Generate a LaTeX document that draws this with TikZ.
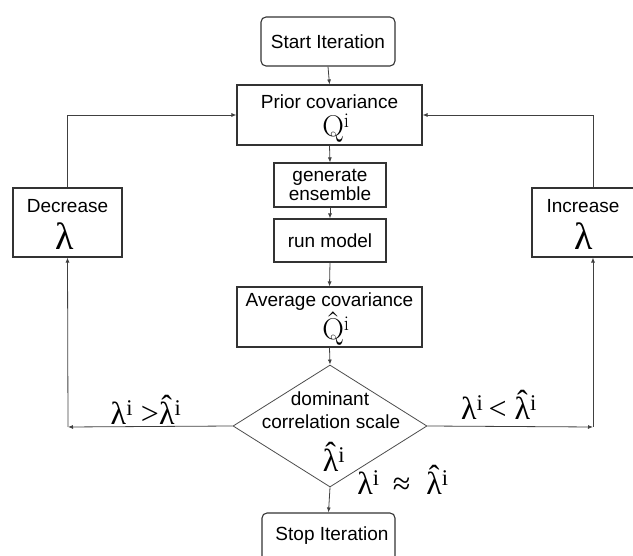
\documentclass[tikz,border=0pt]{standalone}
\usepackage{fontspec}
\newfontfamily\arial{Liberation Sans}
\newfontfamily\tms{Liberation Serif}
\usetikzlibrary{shapes.geometric,arrows.meta}
\newcommand\lam{{\tms λ}}
\newcommand\hlam{{\tms\accent"02C6 λ}}
\newcommand\supi{\textsuperscript{i}}
\begin{document}
\begin{tikzpicture}[x=1pt,y=-1pt]
\tikzset{
  bx/.style={draw=black!80, line width=1.1pt, inner sep=0pt, align=center,
    font=\arial\fontsize{19}{19}\selectfont},
  txt/.style={inner sep=0pt, anchor=base, font=\arial\fontsize{19}{19}\selectfont},
  sym/.style={inner sep=0pt, anchor=base, font=\fontsize{30}{30}\selectfont},
  big/.style={inner sep=0pt, anchor=base, font=\tms\fontsize{38}{38}\selectfont},
  lbl/.style={inner sep=0pt, anchor=base, font=\tms\fontsize{32}{32}\selectfont},
  arr/.style={draw=black!75, line width=0.8pt, -{Latex[length=5pt,width=4pt]}},
}
\useasboundingbox (0,0) rectangle (633,556);
\clip (0,0) rectangle (633,556);

% boxes
\node[bx, rounded corners=5pt, minimum width=134pt, minimum height=49pt] (start) at (328,41.5) {Start Iteration};
\node[bx, minimum width=185pt, minimum height=60pt] (prior) at (329.5,115) {};
\node[bx, minimum width=112pt, minimum height=44pt] (gen) at (330,185) {generate\\ensemble};
\node[bx, minimum width=112pt, minimum height=43pt] (run) at (330,240.5) {run model};
\node[bx, minimum width=185pt, minimum height=60pt] (avg) at (329.5,317) {};
\node[draw=black!70, line width=0.8pt, diamond, inner sep=0pt, minimum width=194pt, minimum height=122pt] (dia) at (330,426) {};
\node[bx, rounded corners=5pt, minimum width=133pt, minimum height=54pt] (stop) at (328.5,540) {};
\node[bx, minimum width=109pt, minimum height=69pt] (dec) at (67.5,222.5) {};
\node[bx, minimum width=114pt, minimum height=69pt] (inc) at (589,222.5) {};

% texts
\node[txt] (tprior) at (329.5,109) {Prior covariance};
\node[sym] (tq) at (336,137) {Q\supi};
\node[txt] (tavg) at (329.5,307) {Average covariance};
\node[sym] (tqh) at (336,340) {\accent"02C6 Q\supi};
\node[txt] (tdom) at (330,406) {dominant};
\node[txt] (tcor) at (331,429) {correlation scale};
\node[lbl] (tlh) at (334,472) {\hlam\supi};
\node[txt] (tstop) at (332,541) {Stop Iteration};
\node[txt] (tdec) at (67.5,213) {Decrease};
\node[big] (ldec) at (65,250) {\lam};
\node[txt] (tinc) at (583,213) {Increase};
\node[big] (linc) at (584,250) {\lam};

% edge labels
\node[lbl] (lL) at (146,425) {\lam\supi\ >\hlam\supi};
\node[lbl] (lR) at (499,420) {\lam\supi\,<\ \hlam\supi};
\node[lbl] (lB) at (403,495) {\lam\supi\ \,≈\ \ \hlam\supi};

% connectors
\coordinate (cl) at (68,427);
\coordinate (cr) at (593,427);
\draw[arr] (start.south) -- (prior.north);
\draw[arr] (prior.south) -- (gen.north);
\draw[arr] (gen.south) -- (run.north);
\draw[arr] (run.south) -- (avg.north);
\draw[arr] (avg.south) -- (dia.north);
\draw[arr] (dia.south) -- (stop.north);
\draw[arr] (dia.west) -- (cl);
\draw[arr] (cl) -- (dec.south);
\draw[arr] (dec.north) |- (prior.west);
\draw[arr] (dia.east) -- (cr);
\draw[arr] (cr) -- (cr |- inc.south);
\draw[arr] (cr |- inc.north) |- (prior.east);
\end{tikzpicture}
\end{document}
